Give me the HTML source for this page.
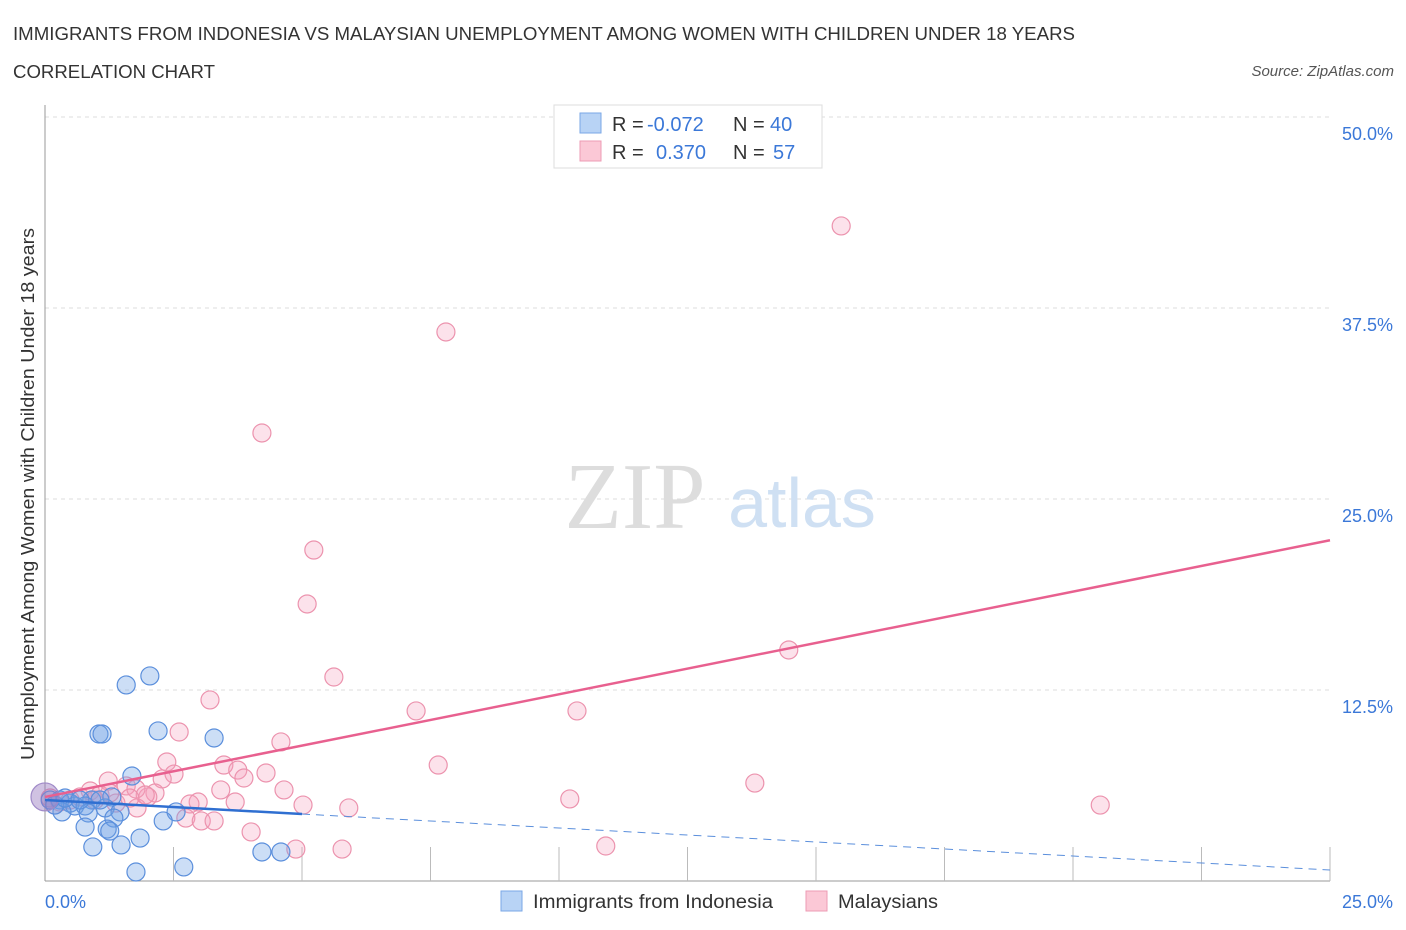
<!DOCTYPE html>
<html><head><meta charset="utf-8">
<style>
body{margin:0;background:#fff;font-family:"Liberation Sans",sans-serif;}
svg{display:block}
</style></head>
<body>
<svg id="chart" width="1406" height="930" xmlns="http://www.w3.org/2000/svg">
<text x="13" y="40" font-size="18" fill="#333" textLength="1062" lengthAdjust="spacingAndGlyphs">IMMIGRANTS FROM INDONESIA VS MALAYSIAN UNEMPLOYMENT AMONG WOMEN WITH CHILDREN UNDER 18 YEARS</text>
<text x="13" y="78" font-size="18" fill="#333" textLength="202" lengthAdjust="spacingAndGlyphs">CORRELATION CHART</text>
<text x="1394" y="76" font-size="15" fill="#555" font-style="italic" text-anchor="end">Source: ZipAtlas.com</text>
<g id="grid"></g>
<text x="635" y="528" font-size="94" fill="#ddd" font-family="Liberation Serif,serif" text-anchor="middle">ZIP</text>
<text x="802" y="527" font-size="70" fill="#cfe0f3" text-anchor="middle">atlas</text>
<g id="marks"></g>
<text transform="translate(34,494) rotate(-90)" font-size="18" fill="#333" text-anchor="middle" textLength="532" lengthAdjust="spacingAndGlyphs">Unemployment Among Women with Children Under 18 years</text>
<text x="45" y="908" font-size="18" fill="#3b78d8">0.0%</text>
<text x="1393" y="908" font-size="18" fill="#3b78d8" text-anchor="end">25.0%</text>
<g>
<rect x="554" y="105" width="268" height="63" fill="#fff" stroke="#ddd"/>
<rect x="580" y="113" width="21" height="20" fill="#b8d3f5" stroke="#7aa7e6"/>
<rect x="580" y="141" width="21" height="20" fill="#fbc8d6" stroke="#ee9bb4"/>
<text x="612" y="131" font-size="20" fill="#333">R = <tspan fill="#3b78d8" x="647">-0.072</tspan></text>
<text x="733" y="131" font-size="20" fill="#333">N = <tspan fill="#3b78d8" x="770">40</tspan></text>
<text x="612" y="159" font-size="20" fill="#333">R = <tspan fill="#3b78d8" x="656">0.370</tspan></text>
<text x="733" y="159" font-size="20" fill="#333">N = <tspan fill="#3b78d8" x="773">57</tspan></text>
</g>
<g>
<rect x="501" y="891" width="21" height="20" fill="#b8d3f5" stroke="#7aa7e6"/>
<text x="533" y="908" font-size="19" fill="#333" textLength="240" lengthAdjust="spacingAndGlyphs">Immigrants from Indonesia</text>
<rect x="806" y="891" width="21" height="20" fill="#fbc8d6" stroke="#ee9bb4"/>
<text x="838" y="908" font-size="19" fill="#333" textLength="100" lengthAdjust="spacingAndGlyphs">Malaysians</text>
</g>
</svg>
<script>
const yTicks=[12.5,25,37.5,50];
const yTickLabels=["12.5%","25.0%","37.5%","50.0%"];
const blueX=[1.58,2.04,1.05,1.11,2.20,3.29,1.69,1.30,0.91,0.29,0.49,0.58,0.78,1.17,1.46,1.34,0.33,0.84,2.55,2.30,0.78,1.21,1.26,1.85,0.93,1.48,4.22,4.59,1.77,2.70,0.10,0.19,0.39,0.68,1.07,0.0];
const blueY=[12.83,13.42,9.62,9.62,9.82,9.36,6.87,5.50,5.30,5.30,5.10,4.91,4.91,4.78,4.52,4.12,4.52,4.45,4.52,3.93,3.53,3.40,3.27,2.81,2.23,2.36,1.90,1.90,0.59,0.92,5.30,4.97,5.43,5.30,5.30,5.5];
const pinkX=[15.49,7.80,4.22,5.23,5.10,14.47,5.62,3.21,7.22,10.35,2.61,4.59,7.65,2.37,3.48,3.75,4.30,3.87,2.51,1.23,2.28,13.81,1.58,3.42,2.14,4.65,0.88,2.00,1.77,2.98,3.70,10.21,20.53,5.02,5.91,2.82,1.38,1.79,2.74,3.04,3.29,4.01,10.91,4.88,5.78,1.07,0.68,0.49,0.29,0.10,0.97,0.19,1.26,1.95,1.65];
const pinkY=[42.87,35.93,29.32,21.66,18.13,15.12,13.35,11.85,11.13,11.13,9.75,9.10,7.59,7.79,7.59,7.26,7.07,6.74,7.00,6.54,6.68,6.41,6.22,5.96,5.76,5.96,5.89,5.50,6.02,5.17,5.17,5.37,4.97,4.97,4.78,5.04,5.10,4.78,4.12,3.93,3.93,3.21,2.29,2.09,2.09,5.63,5.50,5.30,5.17,5.43,5.30,4.97,5.76,5.63,5.43];
const blueTrend=[5.3,0.72];
const pinkTrend=[5.5,22.3];
const NS="http://www.w3.org/2000/svg";
const X0=45,X1=1330,Y0=881,Y50=117;
function sx(v){return X0+(X1-X0)*v/25;}
function sy(v){return Y0-(Y0-Y50)*v/50;}
function mk(tag,attrs,parent){const e=document.createElementNS(NS,tag);for(const k in attrs)e.setAttribute(k,attrs[k]);parent.appendChild(e);return e;}
const grid=document.getElementById('grid');
yTicks.forEach((t,i)=>{
  const l=mk('line',{x1:X0,x2:X1,y1:sy(t),y2:sy(t),stroke:'#ddd','stroke-dasharray':'4,4'},grid);
  
  
  const tx=mk('text',{x:1393,y:sy(t)+23,'font-size':18,fill:'#3b78d8','text-anchor':'end'},grid);
  tx.textContent=yTickLabels[i];
  
  
});
const ax=mk('line',{x1:X0,x2:X0,y1:105,y2:Y0,stroke:'#999'},grid);


const bx=mk('line',{x1:X0,x2:X1,y1:Y0,y2:Y0,stroke:'#999'},grid);


for(let k=1;k<=10;k++){
  const v=k*2.5;
  const t=mk('line',{x1:sx(v),x2:sx(v),y1:Y0-34,y2:Y0,stroke:'#bbb'},grid);
  
  
}
const marks=document.getElementById('marks');
pinkX.forEach((x,i)=>{
  const c=mk('circle',{cx:sx(x),cy:sy(pinkY[i]),r:9,fill:'rgba(244,160,188,0.3)',stroke:'#ec93ae','stroke-width':1.2},marks);
  
  
});
blueX.forEach((x,i)=>{
  const big=i===blueX.length-1;
  const c=mk('circle',{cx:sx(x),cy:sy(blueY[i]),r:big?14:9,fill:big?'rgba(150,120,190,0.45)':'rgba(110,160,230,0.35)',stroke:big?'#a08ac8':'#5b8fdc','stroke-width':1.2},marks);
  
  
});
const pl=mk('line',{x1:sx(0),y1:sy(pinkTrend[0]),x2:sx(25),y2:sy(pinkTrend[1]),stroke:'#e8608f','stroke-width':2.5},marks);


function by(x){return blueTrend[0]+(blueTrend[1]-blueTrend[0])*x/25;}
const bl=mk('line',{x1:sx(0),y1:sy(by(0)),x2:sx(5),y2:sy(by(5)),stroke:'#2f6fd1','stroke-width':2.5},marks);


const bd=mk('line',{x1:sx(5),y1:sy(by(5)),x2:sx(25),y2:sy(by(25)),stroke:'#5b8fdc','stroke-width':1,'stroke-dasharray':'8,6'},marks);


</script>
</body></html>
